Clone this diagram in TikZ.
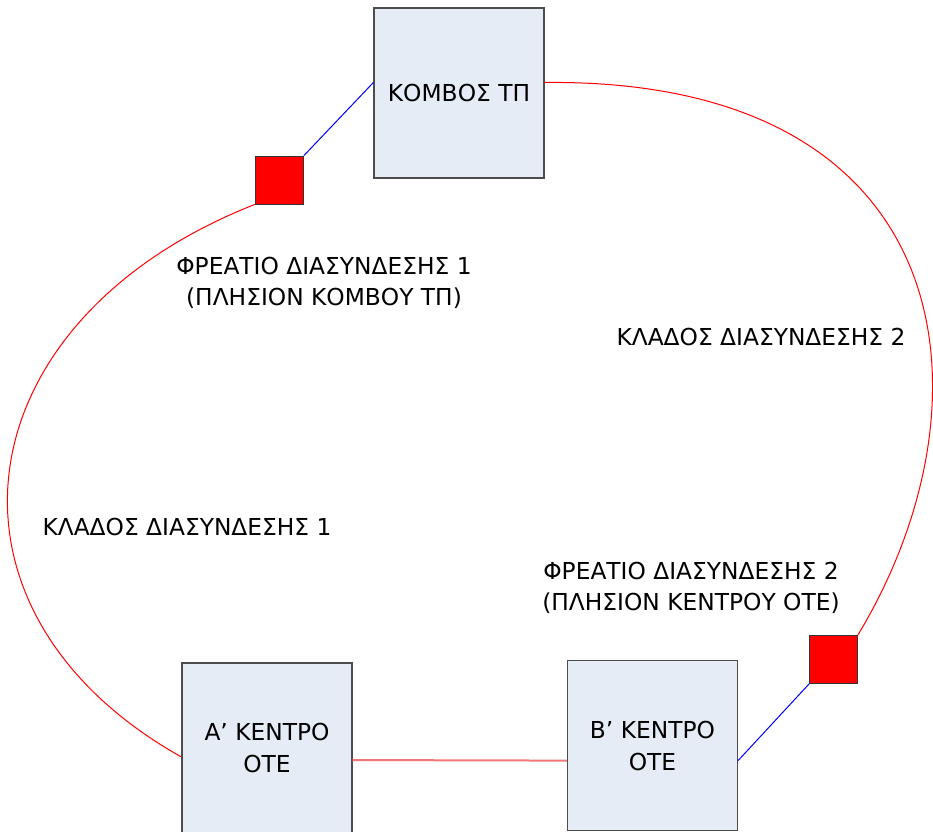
\documentclass[tikz,border=0pt]{standalone}
\usepackage{fontspec}
\setmainfont{DejaVu Sans}
\definecolor{boxfill}{RGB}{230,236,246}
\definecolor{linkred}{RGB}{242,118,118}

\begin{document}
\begin{tikzpicture}[x=0.75pt,y=-0.75pt,
		kentro/.style={shape=rectangle,draw=black!70,line width=0.9pt,fill=boxfill,minimum size=127.5pt,inner sep=0pt,align=center,font=\fontsize{17.5}{24}\selectfont},
		freatio/.style={shape=rectangle,draw=black!80,fill=red,minimum size=36pt,inner sep=0pt},
		lbl/.style={align=center,font=\fontsize{17.5}{23.3}\selectfont},
		klados/.style={-, red, line width=0.75pt},
		syndesi/.style={-, blue, line width=0.75pt}]
			\useasboundingbox (0,0) rectangle (933,832);
			
			\node[kentro] (kombos) at (459,93) {ΚΟΜΒΟΣ ΤΠ};
			\node[kentro] (ota) at (267,748) {Α’ ΚΕΝΤΡΟ\\ΟΤΕ};
			\node[kentro] (otb) at (652.5,745.5) {Β’ ΚΕΝΤΡΟ\\ΟΤΕ};
			\node[freatio] (fr1) at (279.5,180) {};
			\node[freatio] (fr2) at (833.5,659.5) {};
			
			\node[lbl] (lfr1) at (324,282.5) {ΦΡΕΑΤΙΟ ΔΙΑΣΥΝΔΕΣΗΣ 1\\(ΠΛΗΣΙΟΝ ΚΟΜΒΟΥ ΤΠ)};
			\node[lbl] (lkl2) at (761,337) {ΚΛΑΔΟΣ ΔΙΑΣΥΝΔΕΣΗΣ 2};
			\node[lbl] (lkl1) at (187,527) {ΚΛΑΔΟΣ ΔΙΑΣΥΝΔΕΣΗΣ 1};
			\node[lbl] (lfr2) at (691,587.5) {ΦΡΕΑΤΙΟ ΔΙΑΣΥΝΔΕΣΗΣ 2\\(ΠΛΗΣΙΟΝ ΚΕΝΤΡΟΥ ΟΤΕ)};
			
			\path [syndesi] (fr1.north east) edge (kombos.173);
			\path [syndesi] (otb.-10) edge (fr2.south west);
			\path [-, linkred, line width=1.5pt] (ota.-8) edge (otb.190);
			% klados 1
			\draw [klados] (fr1.south west) .. controls (-40,320) and (-80,610) .. (ota.186);
			% klados 2
			\draw [klados] (fr2.north east) .. controls (1000,400) and (962,78) .. (kombos.7);
		\end{tikzpicture}
\end{document}
